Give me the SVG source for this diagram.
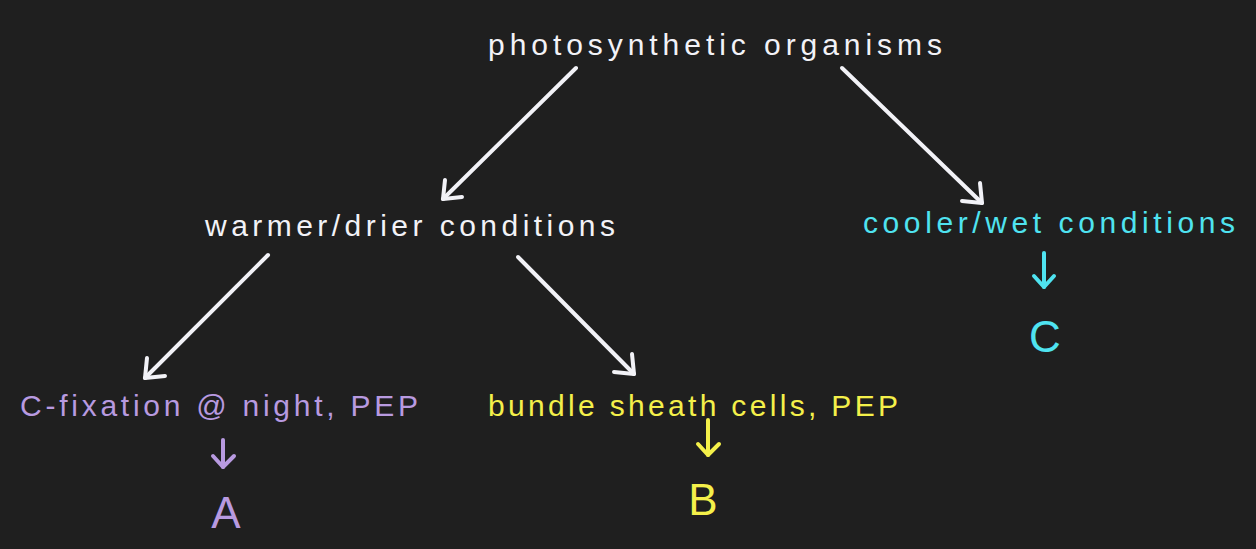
<svg xmlns="http://www.w3.org/2000/svg" width="1256" height="549" viewBox="0 0 1256 549">
<style>
text{font-family:"Liberation Sans",Arial,sans-serif;font-weight:300;text-anchor:middle}
.lbl{font-size:30px}
.big{font-size:44px}
.w{fill:#f2f2f7}.p{fill:#b89ae0}.y{fill:#f4f04a}.c{fill:#4fe3f0}
.cw{stroke:#f2f2f7}.cp{stroke:#b89ae0}.cy{stroke:#f4f04a}.cc{stroke:#4fe3f0}
line,polyline{fill:none;stroke-width:4;stroke-linecap:round;stroke-linejoin:round}
</style>
<rect width="1256" height="549" fill="#1f1f1f"/>
<g id="n-photo"><text class="lbl w" x="715" y="55" textLength="454" lengthAdjust="spacing">photosynthetic organisms</text></g>
<g id="n-warm"><text class="lbl w" x="410" y="236" textLength="410" lengthAdjust="spacing">warmer/drier conditions</text></g>
<g id="n-cool"><text class="lbl c" x="1049" y="233" textLength="372" lengthAdjust="spacing">cooler/wet conditions</text></g>
<g id="n-cfix"><text class="lbl p" x="219" y="416" textLength="398" lengthAdjust="spacing">C-fixation @ night, PEP</text></g>
<g id="n-bundle"><text class="lbl y" x="693" y="416" textLength="410" lengthAdjust="spacing">bundle sheath cells, PEP</text></g>
<g id="n-A"><text class="big p" x="226" y="528">A</text></g>
<g id="n-B"><text class="big y" x="703" y="515">B</text></g>
<g id="n-C"><text class="big c" x="1045" y="352">C</text></g>
<g id="connectors">
<line class="cw" x1="576" y1="68" x2="443" y2="199"/><polyline class="cw" points="445,180 443,199 462,197"/>
<line class="cw" x1="842" y1="68" x2="982" y2="203"/><polyline class="cw" points="980,183 982,203 962,201"/>
<line class="cw" x1="268" y1="255" x2="145" y2="378"/><polyline class="cw" points="147,358 145,378 165,376"/>
<line class="cw" x1="518" y1="257" x2="634" y2="374"/><polyline class="cw" points="632,354 634,374 614,372"/>
<line class="cp" x1="223" y1="440" x2="223" y2="467"/><polyline class="cp" points="213,456 223,467 234,456"/>
<line class="cy" x1="708" y1="420" x2="708" y2="455"/><polyline class="cy" points="698,444 708,455 719,444"/>
<line class="cc" x1="1044" y1="253" x2="1044" y2="287"/><polyline class="cc" points="1034,276 1044,287 1054,276"/>
</g>
</svg>
